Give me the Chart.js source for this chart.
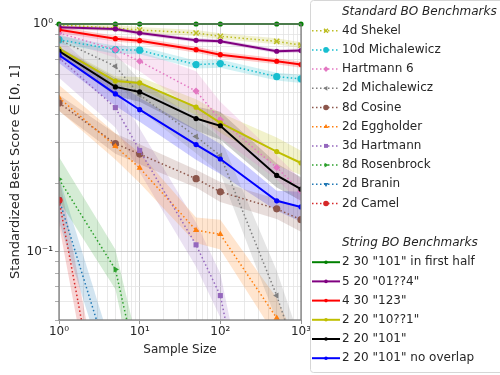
<!DOCTYPE html>
<html>
<head>
<meta charset="utf-8">
<script src="https://cdn.jsdelivr.net/npm/chart.js@4"></script>
<style>
  body { margin: 0; background: #fff; }
  canvas { display: block; }
</style>
</head>
<body>
<canvas id="chart" width="500" height="375"></canvas>
<script>
// Sample sizes shared by every benchmark
const sampleSizes = [1, 5, 10, 50, 100, 500, 1000];

// Axis ticks (log scale, minor ticks unlabeled)
const xTickValues = [1, 2, 3, 4, 5, 6, 7, 8, 9, 10, 20, 30, 40, 50, 60, 70, 80, 90, 100, 200, 300, 400, 500, 600, 700, 800, 900, 1000];
const yTickValues = [0.05, 0.06, 0.07, 0.08, 0.09, 0.1, 0.2, 0.3, 0.4, 0.5, 0.6, 0.7, 0.8, 0.9, 1];
const xTickLabels = { '1': '10⁰', '10': '10¹', '100': '10²', '1000': '10³' };
const yTickLabels = { '0.1': '10⁻¹', '1': '10⁰' };

// Standard BO benchmarks: mean and band (lo / hi)
const shekel = [0.990, 0.960, 0.941, 0.913, 0.883, 0.839, 0.807];
const shekelLo = [0.960, 0.931, 0.913, 0.886, 0.857, 0.814, 0.783];
const shekelHi = [1.02, 0.990, 0.970, 0.941, 0.910, 0.865, 0.832];

const mich10 = [0.853, 0.771, 0.767, 0.663, 0.670, 0.587, 0.574];
const mich10Lo = [0.819, 0.740, 0.737, 0.637, 0.643, 0.564, 0.551];
const mich10Hi = [0.888, 0.803, 0.799, 0.690, 0.698, 0.611, 0.598];

const hart6 = [0.913, 0.771, 0.686, 0.507, 0.379, 0.234, 0.184];
const hart6Lo = [0.859, 0.711, 0.620, 0.414, 0.316, 0.207, 0.163];
const hart6Hi = [0.970, 0.836, 0.759, 0.620, 0.455, 0.264, 0.208];

const mich2 = [0.853, 0.652, 0.488, 0.320, 0.264, 0.064, 0.031];
const mich2Lo = [0.803, 0.572, 0.419, 0.270, 0.220, 0.0497, 0.0241];
const mich2Hi = [0.906, 0.743, 0.568, 0.380, 0.317, 0.0824, 0.0399];

const cosine8 = [0.450, 0.298, 0.268, 0.209, 0.183, 0.154, 0.138];
const cosine8Lo = [0.415, 0.269, 0.242, 0.191, 0.165, 0.139, 0.122];
const cosine8Hi = [0.488, 0.330, 0.296, 0.229, 0.202, 0.170, 0.156];

const egg2 = [0.474, 0.290, 0.233, 0.124, 0.119, 0.051, 0.030];
const egg2Lo = [0.416, 0.254, 0.200, 0.109, 0.102, 0.0417, 0.0245];
const egg2Hi = [0.540, 0.331, 0.271, 0.141, 0.138, 0.0624, 0.0367];

const hart3 = [0.71, 0.429, 0.278, 0.107, 0.064, 0.004];
const hart3Lo = [0.580, 0.351, 0.223, 0.0857, 0.0513, 0.0031];
const hart3Hi = [0.869, 0.525, 0.347, 0.134, 0.080, 0.0051];

const rosen8 = [0.208, 0.0834, 0.028];
const rosen8Lo = [0.167, 0.0682, 0.0218];
const rosen8Hi = [0.260, 0.102, 0.036];

const branin2 = [0.170, 0.027];
const branin2Lo = [0.136, 0.0216];
const branin2Hi = [0.212, 0.0337];

const camel2 = [0.168, 0.008];
const camel2Lo = [0.131, 0.0062];
const camel2Hi = [0.216, 0.0103];

// String BO benchmarks
const firstHalf = [1, 1, 1, 1, 1, 1, 1];

const s01q4 = [0.967, 0.951, 0.913, 0.848, 0.839, 0.759, 0.764];
const s01q4Lo = [0.948, 0.932, 0.895, 0.831, 0.822, 0.744, 0.749];
const s01q4Hi = [0.987, 0.970, 0.932, 0.865, 0.856, 0.774, 0.780];

const s123 = [0.944, 0.862, 0.845, 0.771, 0.733, 0.686, 0.663];
const s123Lo = [0.916, 0.836, 0.820, 0.748, 0.711, 0.666, 0.643];
const s123Hi = [0.973, 0.889, 0.871, 0.795, 0.756, 0.707, 0.683];

const s10qq1 = [0.777, 0.561, 0.551, 0.431, 0.368, 0.275, 0.245];
const s10qq1Lo = [0.754, 0.533, 0.519, 0.398, 0.333, 0.239, 0.217];
const s10qq1Hi = [0.801, 0.590, 0.585, 0.467, 0.407, 0.317, 0.277];

const s101 = [0.761, 0.529, 0.503, 0.384, 0.357, 0.216, 0.188];
const s101Lo = [0.731, 0.483, 0.455, 0.340, 0.310, 0.191, 0.167];
const s101Hi = [0.792, 0.579, 0.556, 0.434, 0.411, 0.244, 0.212];

const s101NoOverlap = [0.731, 0.493, 0.420, 0.295, 0.255, 0.167, 0.157];
const s101NoOverlapLo = [0.674, 0.437, 0.372, 0.253, 0.219, 0.151, 0.135];
const s101NoOverlapHi = [0.793, 0.557, 0.474, 0.343, 0.297, 0.185, 0.183];

const standardSeries = [
    { label: '4d Shekel', mean: shekel, lo: shekelLo, hi: shekelHi, color: '#bcbd22', marker: 'crossRot', rot: 0 },
    { label: '10d Michalewicz', mean: mich10, lo: mich10Lo, hi: mich10Hi, color: '#17becf', marker: 'circle', rot: 0 },
    { label: 'Hartmann 6', mean: hart6, lo: hart6Lo, hi: hart6Hi, color: '#e377c2', marker: 'rectRot', rot: 0 },
    { label: '2d Michalewicz', mean: mich2, lo: mich2Lo, hi: mich2Hi, color: '#7f7f7f', marker: 'triangle', rot: 270 },
    { label: '8d Cosine', mean: cosine8, lo: cosine8Lo, hi: cosine8Hi, color: '#8c564b', marker: 'circle', rot: 0 },
    { label: '2d Eggholder', mean: egg2, lo: egg2Lo, hi: egg2Hi, color: '#ff7f0e', marker: 'triangle', rot: 0 },
    { label: '3d Hartmann', mean: hart3, lo: hart3Lo, hi: hart3Hi, color: '#9467bd', marker: 'rect', rot: 0 },
    { label: '8d Rosenbrock', mean: rosen8, lo: rosen8Lo, hi: rosen8Hi, color: '#2ca02c', marker: 'triangle', rot: 90 },
    { label: '2d Branin', mean: branin2, lo: branin2Lo, hi: branin2Hi, color: '#1f77b4', marker: 'triangle', rot: 180 },
    { label: '2d Camel', mean: camel2, lo: camel2Lo, hi: camel2Hi, color: '#d62728', marker: 'circle', rot: 0 }
];

const stringSeries = [
    { label: '2 30 "101" in first half', mean: firstHalf, color: '#008000' },
    { label: '5 20 "01??4"', mean: s01q4, lo: s01q4Lo, hi: s01q4Hi, color: '#800080' },
    { label: '4 30 "123"', mean: s123, lo: s123Lo, hi: s123Hi, color: '#ff0000' },
    { label: '2 20 "10??1"', mean: s10qq1, lo: s10qq1Lo, hi: s10qq1Hi, color: '#bfbf00' },
    { label: '2 20 "101"', mean: s101, lo: s101Lo, hi: s101Hi, color: '#000000' },
    { label: '2 20 "101" no overlap', mean: s101NoOverlap, lo: s101NoOverlapLo, hi: s101NoOverlapHi, color: '#0000ff' }
];

const FONT = 'DejaVu Sans';
const TEXT = '#262626';

function rgba(hex, a) {
    const n = parseInt(hex.slice(1), 16);
    return `rgba(${(n >> 16) & 255}, ${(n >> 8) & 255}, ${n & 255}, ${a})`;
}

const toPoints = arr => arr.map((y, i) => ({ x: sampleSizes[i], y }));

// Build datasets: band (hi + lo filled to hi) then the mean line
const datasets = [];
function addSeries(s, group, lineOrder) {
    if (s.lo) {
        datasets.push({ data: toPoints(s.hi), borderWidth: 0, pointRadius: 0, fill: false, order: 100 });
        datasets.push({ data: toPoints(s.lo), borderWidth: 0, pointRadius: 0, fill: '-1',
            backgroundColor: rgba(s.color, 0.2), order: 100 });
    }
    const dotted = group === 'standard';
    const cross = s.marker === 'crossRot';
    datasets.push({
        label: s.label,
        group: group,
        data: toPoints(s.mean),
        borderColor: s.color,
        backgroundColor: s.color,
        borderWidth: dotted ? 1.5 : 2,
        borderDash: dotted ? [1.5, 2.5] : [],
        pointStyle: dotted ? s.marker : 'circle',
        pointRotation: s.rot || 0,
        pointRadius: dotted ? 3.6 : 2.6,
        pointBorderWidth: cross ? 1.5 : 0,
        pointBorderColor: s.color,
        pointBackgroundColor: s.color,
        fill: false,
        tension: 0,
        clip: s.mean === firstHalf ? false : 0,
        order: lineOrder
    });
}
standardSeries.forEach((s, i) => addSeries(s, 'standard', 40 - i));
stringSeries.forEach((s, i) => addSeries(s, 'string', 20 - i));

const isMajor = v => Math.abs(Math.log10(v) - Math.round(Math.log10(v))) < 1e-9;

// Box around the plotting area
const axesFrame = {
    id: 'axesFrame',
    afterDatasetsDraw(chart) {
        const { ctx, chartArea: a } = chart;
        ctx.save();
        ctx.strokeStyle = '#7a7a7a';
        ctx.lineWidth = 1.25;
        ctx.strokeRect(a.left, a.top, a.right - a.left, a.bottom - a.top);
        ctx.restore();
    }
};

// Legend with two titled sections
const sectionLegend = {
    id: 'sectionLegend',
    afterDraw(chart) {
        const ctx = chart.ctx;
        const sections = [
            { title: 'Standard BO Benchmarks', group: 'standard', top: 11.5 },
            { title: 'String BO Benchmarks', group: 'string', top: 243 }
        ];
        const step = 19.2;
        const x0 = 312, x1 = 340, tx = 342;
        ctx.save();
        ctx.fillStyle = 'rgba(255,255,255,0.8)';
        ctx.strokeStyle = '#d6d6d6';
        ctx.lineWidth = 1;
        ctx.beginPath();
        ctx.roundRect(310.5, 0.5, 200, 372, 3);
        ctx.fill();
        ctx.stroke();
        ctx.textBaseline = 'middle';
        sections.forEach(sec => {
            ctx.font = `italic 12px "${FONT}"`;
            ctx.fillStyle = TEXT;
            ctx.textAlign = 'left';
            ctx.fillText(sec.title, tx, sec.top);
            const items = chart.data.datasets.filter(d => d.group === sec.group);
            items.forEach((d, i) => {
                const y = sec.top + step * (i + 1);
                ctx.strokeStyle = d.borderColor;
                ctx.lineWidth = d.borderWidth;
                ctx.setLineDash(d.borderDash);
                ctx.beginPath();
                ctx.moveTo(x0, y);
                ctx.lineTo(x1, y);
                ctx.stroke();
                ctx.setLineDash([]);
                ctx.fillStyle = d.pointBackgroundColor;
                ctx.strokeStyle = d.pointBorderColor;
                ctx.lineWidth = d.pointBorderWidth;
                Chart.helpers.drawPoint(ctx, {
                    pointStyle: d.pointStyle,
                    rotation: d.pointRotation,
                    radius: d.group === 'standard' ? 2.8 : 1.8,
                    borderWidth: d.pointBorderWidth
                }, (x0 + x1) / 2, y);
                ctx.font = `12px "${FONT}"`;
                ctx.fillStyle = TEXT;
                ctx.fillText(d.label, tx, y);
            });
        });
        ctx.restore();
    }
};

const gridColor = c => (c.tick && isMajor(c.tick.value) ? '#c4c4c4' : '#e3e3e3');

new Chart(document.getElementById('chart').getContext('2d'), {
    type: 'line',
    data: { datasets },
    options: {
        responsive: false,
        animation: false,
        devicePixelRatio: 1,
        layout: { padding: { top: 24, right: 199, bottom: 0, left: 0 } },
        plugins: {
            legend: { display: false },
            tooltip: { enabled: false }
        },
        scales: {
            x: {
                type: 'logarithmic',
                min: 1,
                max: 1000,
                afterBuildTicks: s => { s.ticks = xTickValues.map(v => ({ value: v })); },
                afterFit: s => { s.height = 55; },
                ticks: {
                    autoSkip: false,
                    maxRotation: 0,
                    padding: 1,
                    color: TEXT,
                    font: { family: FONT, size: 12 },
                    callback: v => xTickLabels[String(v)] || ''
                },
                grid: { color: gridColor, lineWidth: 0.8, tickLength: 4, tickColor: c => (isMajor(c.tick.value) ? '#7a7a7a' : 'rgba(0,0,0,0)') },
                border: { display: false },
                title: { display: true, text: 'Sample Size', color: TEXT, font: { family: FONT, size: 12 }, padding: { top: 2, bottom: 18 } }
            },
            y: {
                type: 'logarithmic',
                min: 0.05,
                max: 1,
                afterBuildTicks: s => { s.ticks = yTickValues.map(v => ({ value: v })); },
                afterFit: s => { s.width = 59; },
                ticks: {
                    autoSkip: false,
                    padding: 2,
                    color: TEXT,
                    font: { family: FONT, size: 12 },
                    callback: v => yTickLabels[String(v)] || ''
                },
                grid: { color: gridColor, lineWidth: 0.8, tickLength: 4, tickColor: c => (isMajor(c.tick.value) ? '#7a7a7a' : '#9a9a9a') },
                border: { display: false },
                title: { display: true, text: 'Standardized Best Score ∈ [0, 1]', color: TEXT, font: { family: FONT, size: 13 }, padding: { top: 8, bottom: 4 } }
            }
        }
    },
    plugins: [axesFrame, sectionLegend]
});
</script>
</body>
</html>
